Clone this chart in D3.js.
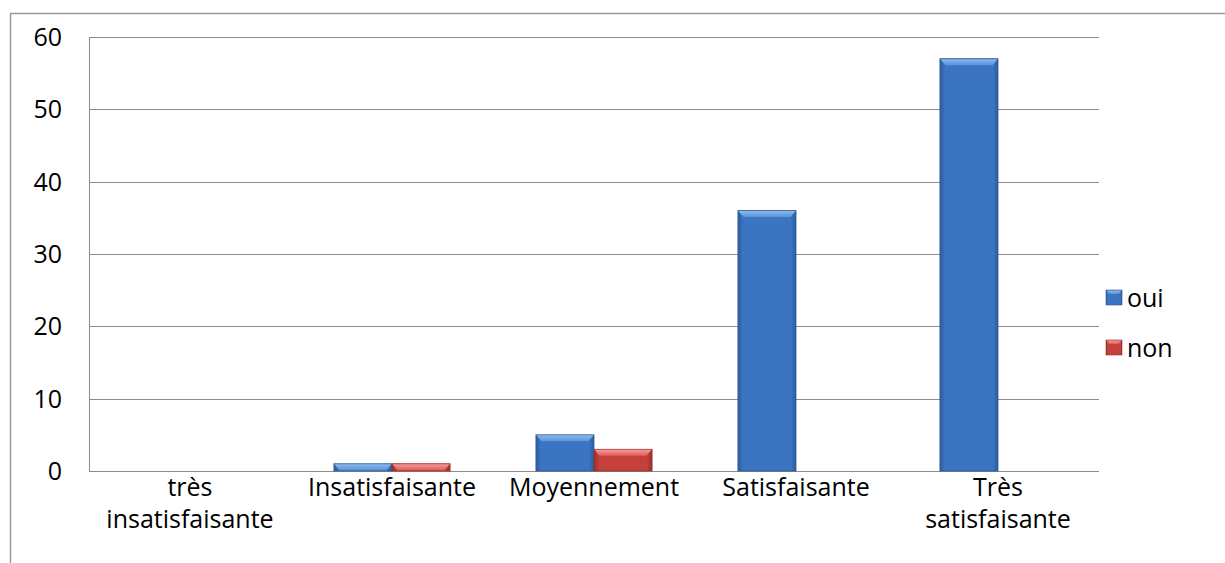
<!DOCTYPE html>
<html>
<head>
<meta charset="utf-8">
<script src="https://cdn.jsdelivr.net/npm/d3@7"></script>
<style>
  body { margin: 0; background: #fff; }
  text { font-family: "Open Sans", "Noto Sans", sans-serif; fill: #000; }
</style>
</head>
<body>
<script>
// Chart data
var categories = ["très insatisfaisante", "Insatisfaisante", "Moyennement", "Satisfaisante", "Très satisfaisante"];
var series = ["oui", "non"];
var ouiValues = [0, 1, 5, 36, 57];
var nonValues = [0, 1, 3, 0, 0];
var yTicks = [0, 10, 20, 30, 40, 50, 60];
var colours = { oui: "#3d76c2", non: "#c9403d" };

var W = 1225, H = 563;
var svg = d3.select("body").append("svg")
    .attr("width", W)
    .attr("height", H);

// gradients for the bevelled bar look
var defs = svg.append("defs");
function addGradient(id, dark, mid) {
    var g = defs.append("linearGradient").attr("id", id)
        .attr("x1", "0").attr("y1", "0").attr("x2", "1").attr("y2", "0");
    g.append("stop").attr("offset", "0%").attr("stop-color", dark);
    g.append("stop").attr("offset", "9%").attr("stop-color", mid);
    g.append("stop").attr("offset", "91%").attr("stop-color", mid);
    g.append("stop").attr("offset", "100%").attr("stop-color", dark);
}
addGradient("g-oui", "#2c5c9c", "#3b75c2");
addGradient("g-non", "#982e2b", "#c53f3b");

function addTop(id, a, b) {
    var g = defs.append("linearGradient").attr("id", id)
        .attr("x1", "0").attr("y1", "0").attr("x2", "0").attr("y2", "1");
    g.append("stop").attr("offset", "0%").attr("stop-color", a);
    g.append("stop").attr("offset", "100%").attr("stop-color", b);
}
addTop("t-oui", "#8ab8ee", "#5a93da");
addTop("t-non", "#f39a96", "#de5d58");

// outer frame
svg.append("path")
    .attr("d", "M10.5," + H + "V13.5H" + W)
    .attr("fill", "none")
    .attr("stroke", "#9a9a9a")
    .attr("stroke-width", 1.5);

var margin = { left: 89, top: 37, right: 1099, bottom: 471 };

var x = d3.scaleBand()
    .domain(categories)
    .range([margin.left, margin.right])
    .paddingInner(0.425)
    .paddingOuter(0.2125);

var xs = d3.scaleBand()
    .domain(series)
    .range([0, x.bandwidth()]);

var y = d3.scaleLinear()
    .domain([0, 60])
    .range([margin.bottom, margin.top]);

// gridlines
svg.append("g")
    .selectAll("line")
    .data(yTicks)
    .enter().append("line")
    .attr("x1", margin.left)
    .attr("x2", margin.right)
    .attr("y1", function(d) { return Math.round(y(d)) + 0.5; })
    .attr("y2", function(d) { return Math.round(y(d)) + 0.5; })
    .attr("stroke", "#8c8c8c")
    .attr("stroke-width", 1);

// y axis line
svg.append("line")
    .attr("x1", margin.left + 0.5).attr("x2", margin.left + 0.5)
    .attr("y1", margin.top).attr("y2", margin.bottom)
    .attr("stroke", "#8c8c8c");

// y tick labels
svg.append("g")
    .selectAll("text")
    .data(yTicks)
    .enter().append("text")
    .attr("x", 62)
    .attr("y", function(d) { return y(d); })
    .attr("dy", "0.36em")
    .attr("text-anchor", "end")
    .attr("font-size", 25)
    .text(function(d) { return d; });

// bars
var rows = categories.map(function(c, i) {
    return { cat: c, values: [{ s: "oui", v: ouiValues[i] }, { s: "non", v: nonValues[i] }] };
});

var group = svg.append("g")
    .selectAll("g")
    .data(rows)
    .enter().append("g")
    .attr("transform", function(d) { return "translate(" + x(d.cat) + ",0)"; });

var bar = group.selectAll("g")
    .data(function(d) { return d.values.filter(function(e) { return e.v > 0; }); })
    .enter().append("g");

bar.append("rect")
    .attr("x", function(d) { return xs(d.s); })
    .attr("y", function(d) { return y(d.v); })
    .attr("width", xs.bandwidth())
    .attr("height", function(d) { return y(0) - y(d.v); })
    .attr("fill", function(d) { return "url(#g-" + d.s + ")"; })
    .attr("stroke", function(d) { return d3.color(colours[d.s]).darker(0.8); })
    .attr("stroke-width", 0.8);

// lighter bevelled top edge
bar.append("path")
    .attr("d", function(d) {
        var x0 = xs(d.s) + 0.5, x1 = xs(d.s) + xs.bandwidth() - 0.5;
        var y0 = y(d.v) + 0.5;
        var h = Math.min(6, y(0) - y(d.v) - 1);
        return "M" + x0 + "," + y0 + "H" + x1 + "L" + (x1 - 5) + "," + (y0 + h) +
            "H" + (x0 + 5) + "Z";
    })
    .attr("fill", function(d) { return "url(#t-" + d.s + ")"; });

// x labels (wrapped)
var xLabels = {
    "très insatisfaisante": ["très", "insatisfaisante"],
    "Très satisfaisante": ["Très", "satisfaisante"]
};
var lab = svg.append("g")
    .selectAll("text")
    .data(categories)
    .enter().append("text")
    .attr("x", function(d) { return x(d) + x.bandwidth() / 2; })
    .attr("y", 496)
    .attr("text-anchor", "middle")
    .attr("font-size", 25);
lab.each(function(d) {
    var lines = xLabels[d] || [d];
    var t = d3.select(this);
    lines.forEach(function(l, i) {
        t.append("tspan")
            .attr("x", x(d) + x.bandwidth() / 2)
            .attr("dy", i === 0 ? 0 : 32)
            .text(l);
    });
});

// legend
var legend = svg.append("g")
    .selectAll("g")
    .data(series)
    .enter().append("g")
    .attr("transform", function(d, i) { return "translate(1106," + (290 + i * 50) + ")"; });

legend.append("rect")
    .attr("width", 16)
    .attr("height", 15)
    .attr("fill", function(d) { return "url(#g-" + d + ")"; })
    .attr("stroke", function(d) { return d3.color(colours[d]).darker(0.8); })
    .attr("stroke-width", 0.6);

legend.append("path")
    .attr("d", "M0.5,0.5H15.5L12.5,4H3.5Z")
    .attr("fill", function(d) { return "url(#t-" + d + ")"; });

legend.append("text")
    .attr("x", 21)
    .attr("y", 8)
    .attr("dy", "0.36em")
    .attr("font-size", 25)
    .text(function(d) { return d; });
</script>
</body>
</html>
